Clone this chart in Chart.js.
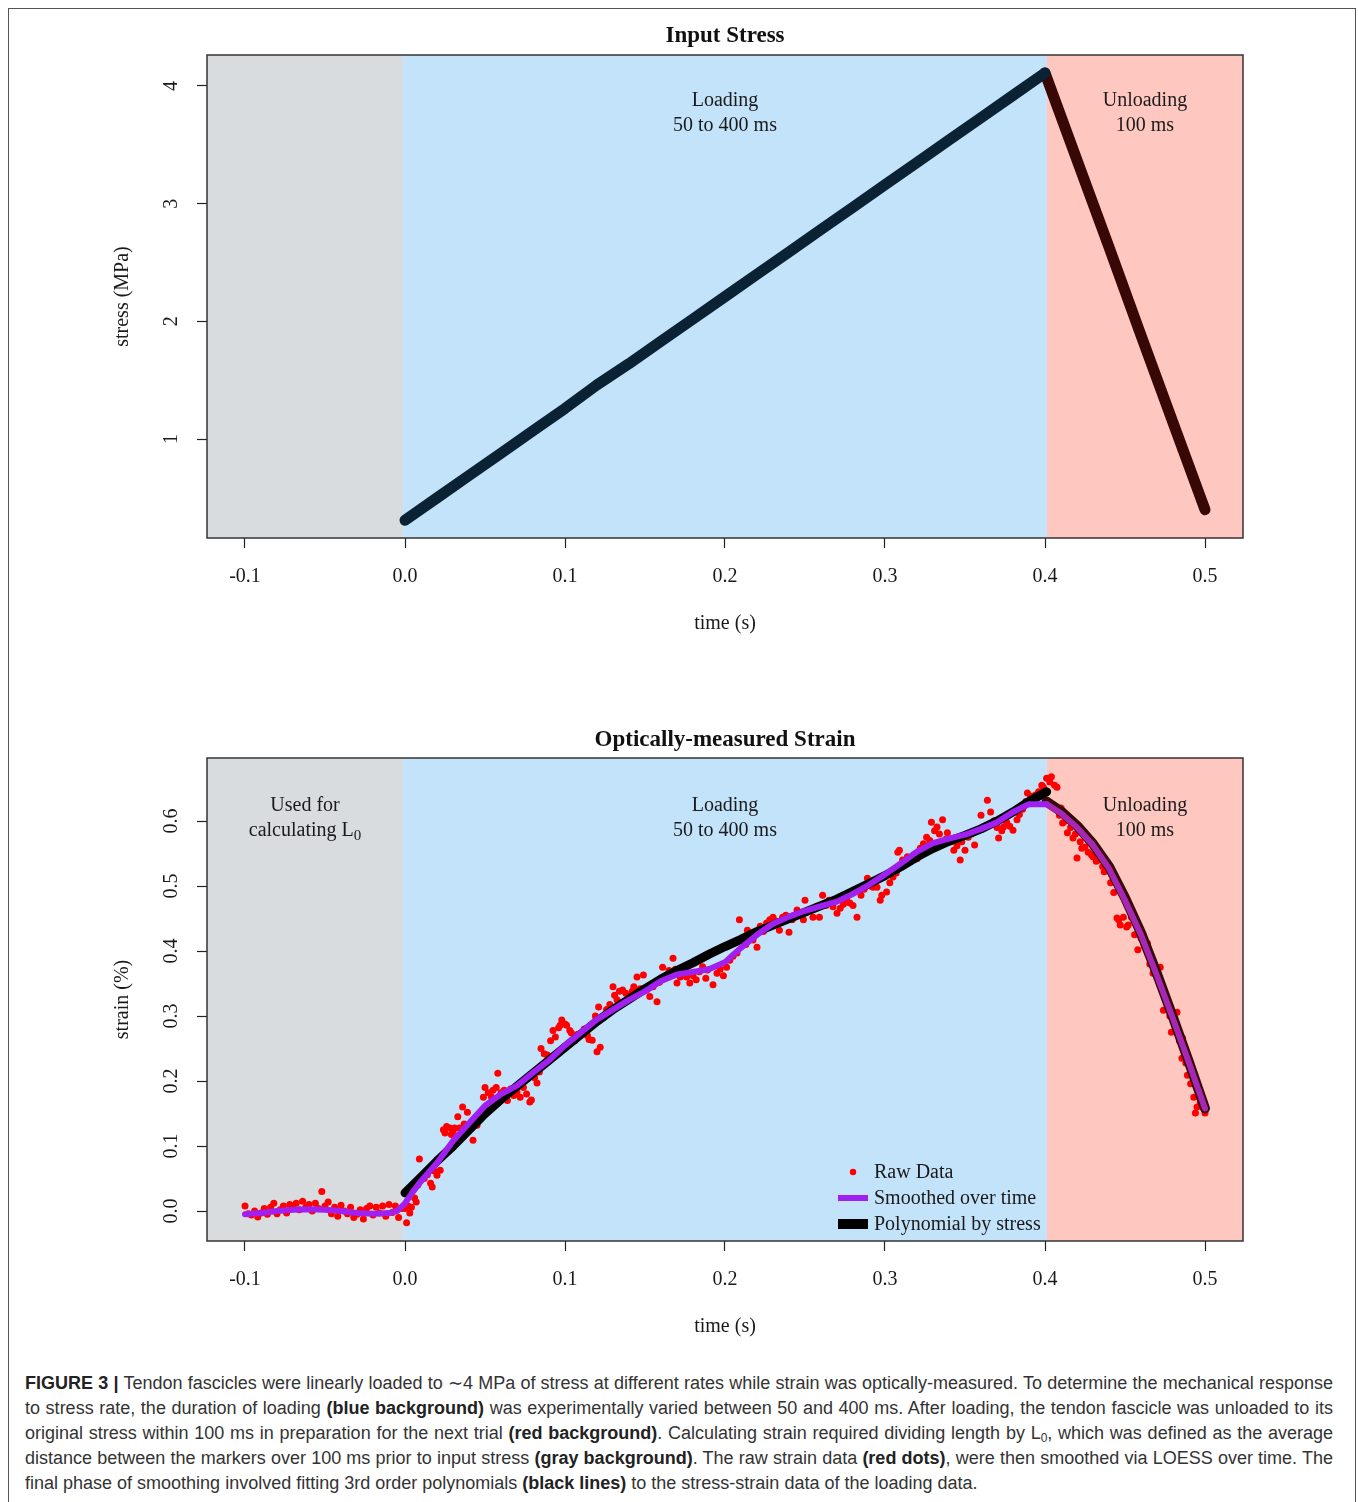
<!DOCTYPE html>
<html>
<head>
<meta charset="utf-8">
<script src="https://cdn.jsdelivr.net/npm/chart.js@4.4.0/dist/chart.umd.min.js"></script>
<style>
  body { margin: 0; background: #fff; width: 1358px; height: 1502px; position: relative; overflow: hidden; }
  #frame { position: absolute; left: 8px; top: 8px; width: 1346px; height: 1530px; border: 1.5px solid #555; }
  canvas { position: absolute; left: 0; }
  #stressCanvas { top: 0; }
  #strainCanvas { top: 703px; }
  #caption { position: absolute; left: 25px; top: 1371px; width: 1308px; font-family: "Liberation Sans", Arial, sans-serif; font-size: 18px; line-height: 25px; color: #333; }
  #caption div { white-space: nowrap; text-align: justify; text-align-last: justify; }
  #caption div.last { text-align-last: left; }
  #caption b { color: #222; }
  #caption sub { font-size: 12px; line-height: 0; vertical-align: -3px; }
</style>
</head>
<body>
<div id="frame"></div>
<canvas id="stressCanvas" width="1358" height="660"></canvas>
<canvas id="strainCanvas" width="1358" height="660"></canvas>
<div id="caption">
<div><b>FIGURE 3 |</b> Tendon fascicles were linearly loaded to ∼4 MPa of stress at different rates while strain was optically-measured. To determine the mechanical response</div>
<div>to stress rate, the duration of loading <b>(blue background)</b> was experimentally varied between 50 and 400 ms. After loading, the tendon fascicle was unloaded to its</div>
<div>original stress within 100 ms in preparation for the next trial <b>(red background)</b>. Calculating strain required dividing length by L<sub>0</sub>, which was defined as the average</div>
<div>distance between the markers over 100 ms prior to input stress <b>(gray background)</b>. The raw strain data <b>(red dots)</b>, were then smoothed via LOESS over time. The</div>
<div class="last">final phase of smoothing involved fitting 3rd order polynomials <b>(black lines)</b> to the stress-strain data of the loading data.</div>
</div>
<script>
// axes
const xTicks = [-0.1, 0.0, 0.1, 0.2, 0.3, 0.4, 0.5];
const stressTicks = [1, 2, 3, 4];
const strainTicks = [0.0, 0.1, 0.2, 0.3, 0.4, 0.5, 0.6];
const phaseEdges = [-0.0012, 0.4012];
const phaseColors = ['#d8dcdf', '#c3e3fa', '#fec8c1'];

// input stress
const loadTime = [0.000, 0.020, 0.040, 0.060, 0.080, 0.100, 0.120, 0.140, 0.160, 0.180, 0.200,
                  0.220, 0.240, 0.260, 0.280, 0.300, 0.320, 0.340, 0.360, 0.380, 0.400];
const loadStress = [0.31, 0.50, 0.69, 0.88, 1.07, 1.26, 1.46, 1.64, 1.83, 2.02, 2.21,
                    2.40, 2.59, 2.78, 2.97, 3.16, 3.35, 3.54, 3.73, 3.92, 4.11];
const unloadTime = [0.400, 0.420, 0.440, 0.460, 0.480, 0.500];
const unloadStress = [4.11, 3.37, 2.63, 1.88, 1.14, 0.40];

// raw strain (red dots)
const rawTime = [
  -0.100, -0.098, -0.096, -0.094, -0.092, -0.090, -0.088, -0.086, -0.084, -0.082,
  -0.080, -0.078, -0.076, -0.074, -0.072, -0.070, -0.068, -0.066, -0.064, -0.062,
  -0.060, -0.058, -0.056, -0.054, -0.052, -0.050, -0.048, -0.046, -0.044, -0.042,
  -0.040, -0.038, -0.036, -0.034, -0.032, -0.030, -0.028, -0.026, -0.024, -0.022,
  -0.020, -0.018, -0.016, -0.014, -0.012, -0.010, -0.008, -0.006, -0.004, -0.002,
  0.000, 0.001, 0.002, 0.003, 0.004, 0.005, 0.006, 0.007, 0.008, 0.009,
  0.010, 0.012, 0.014, 0.016, 0.017, 0.018, 0.020, 0.022, 0.024, 0.025,
  0.026, 0.028, 0.029, 0.030, 0.031, 0.033, 0.034, 0.036, 0.037, 0.039,
  0.041, 0.0425, 0.045, 0.047, 0.049, 0.050, 0.052, 0.054, 0.055, 0.057,
  0.058, 0.060, 0.062, 0.064, 0.066, 0.068, 0.070, 0.072, 0.074, 0.076,
  0.078, 0.079, 0.081, 0.0825, 0.084, 0.085, 0.087, 0.089, 0.091, 0.0925,
  0.094, 0.096, 0.097, 0.098, 0.100, 0.101, 0.103, 0.104, 0.106, 0.108,
  0.110, 0.112, 0.114, 0.115, 0.117, 0.119, 0.120, 0.121, 0.122, 0.124,
  0.126, 0.128, 0.130, 0.131, 0.1325, 0.134, 0.136, 0.138, 0.140, 0.142,
  0.143, 0.145, 0.147, 0.149, 0.151, 0.153, 0.155, 0.1575, 0.159, 0.161,
  0.163, 0.165, 0.1675, 0.169, 0.170, 0.172, 0.174, 0.176, 0.178, 0.180,
  0.182, 0.184, 0.186, 0.188, 0.189, 0.1925, 0.195, 0.197, 0.199, 0.201,
  0.203, 0.205, 0.2075, 0.209, 0.211, 0.213, 0.214, 0.2175, 0.220, 0.222,
  0.224, 0.226, 0.228, 0.230, 0.232, 0.234, 0.236, 0.238, 0.240, 0.242,
  0.245, 0.247, 0.249, 0.250, 0.252, 0.255, 0.257, 0.259, 0.261, 0.263,
  0.265, 0.2675, 0.270, 0.272, 0.274, 0.276, 0.278, 0.280, 0.2825, 0.285,
  0.287, 0.289, 0.291, 0.2925, 0.295, 0.297, 0.298, 0.301, 0.303, 0.305,
  0.307, 0.308, 0.309, 0.311, 0.314, 0.316, 0.318, 0.320, 0.322, 0.324,
  0.326, 0.328, 0.329, 0.331, 0.3325, 0.334, 0.336, 0.338, 0.339, 0.341,
  0.343, 0.345, 0.347, 0.348, 0.350, 0.352, 0.354, 0.356, 0.358, 0.360,
  0.362, 0.364, 0.366, 0.368, 0.370, 0.371, 0.373, 0.374, 0.376, 0.378,
  0.380, 0.3825, 0.384, 0.386, 0.388, 0.389, 0.391, 0.3925, 0.394, 0.396,
  0.398, 0.399, 0.401, 0.403, 0.404, 0.406, 0.4075, 0.409, 0.410, 0.411,
  0.413, 0.414, 0.416, 0.4175, 0.419, 0.420, 0.422, 0.423, 0.425, 0.427,
  0.429, 0.430, 0.432, 0.434, 0.436, 0.437, 0.439, 0.441, 0.443, 0.445,
  0.446, 0.447, 0.449, 0.451, 0.452, 0.454, 0.456, 0.458, 0.460, 0.462,
  0.464, 0.4655, 0.4675, 0.469, 0.472, 0.474, 0.476, 0.478, 0.479, 0.4825,
  0.484, 0.486, 0.4856, 0.488, 0.489, 0.491, 0.493, 0.494, 0.495, 0.497,
  0.500
];
const rawStrain = [
  0.008, -0.004, -0.006, 0.000, -0.009, -0.003, 0.004, -0.005, 0.006, 0.012,
  -0.004, 0.002, 0.008, -0.003, 0.010, 0.005, 0.012, 0.002, 0.015, 0.006,
  0.010, 0.000, 0.012, 0.004, 0.030, 0.008, 0.014, -0.004, 0.006, -0.008,
  0.009, 0.000, -0.004, 0.006, -0.010, -0.005, 0.002, -0.012, 0.004, 0.008,
  -0.006, 0.006, -0.003, 0.008, -0.008, 0.010, -0.002, 0.008, -0.010, 0.004,
  0.004, -0.018, 0.008, -0.003, 0.006, 0.032, 0.020, 0.014, 0.040, 0.080,
  0.048, 0.050, 0.056, 0.043, 0.037, 0.062, 0.055, 0.063, 0.125, 0.120,
  0.130, 0.128, 0.118, 0.122, 0.128, 0.145, 0.128, 0.160, 0.134, 0.152,
  0.128, 0.109, 0.132, 0.150, 0.175, 0.190, 0.182, 0.176, 0.186, 0.190,
  0.212, 0.182, 0.186, 0.170, 0.188, 0.178, 0.183, 0.175, 0.190, 0.180,
  0.168, 0.171, 0.205, 0.197, 0.214, 0.250, 0.242, 0.240, 0.262, 0.278,
  0.268, 0.282, 0.286, 0.294, 0.288, 0.286, 0.278, 0.274, 0.262, 0.272,
  0.274, 0.280, 0.270, 0.264, 0.263, 0.300, 0.245, 0.314, 0.252, 0.298,
  0.310, 0.318, 0.345, 0.332, 0.325, 0.338, 0.340, 0.335, 0.330, 0.338,
  0.345, 0.360, 0.342, 0.363, 0.340, 0.330, 0.345, 0.322, 0.352, 0.375,
  0.362, 0.370, 0.389, 0.372, 0.351, 0.360, 0.364, 0.360, 0.351, 0.362,
  0.356, 0.368, 0.376, 0.358, 0.371, 0.348, 0.366, 0.372, 0.362, 0.375,
  0.386, 0.392, 0.397, 0.448, 0.420, 0.410, 0.432, 0.417, 0.406, 0.438,
  0.430, 0.443, 0.448, 0.452, 0.446, 0.432, 0.452, 0.455, 0.429, 0.448,
  0.463, 0.458, 0.448, 0.478, 0.462, 0.452, 0.468, 0.452, 0.486, 0.470,
  0.478, 0.468, 0.458, 0.466, 0.472, 0.480, 0.474, 0.470, 0.452, 0.486,
  0.495, 0.512, 0.500, 0.498, 0.498, 0.478, 0.486, 0.491, 0.505, 0.514,
  0.520, 0.552, 0.555, 0.540, 0.545, 0.538, 0.548, 0.542, 0.558, 0.565,
  0.575, 0.570, 0.598, 0.585, 0.591, 0.580, 0.602, 0.572, 0.582, 0.568,
  0.555, 0.562, 0.540, 0.568, 0.555, 0.575, 0.580, 0.563, 0.585, 0.609,
  0.590, 0.632, 0.614, 0.600, 0.590, 0.574, 0.585, 0.591, 0.598, 0.592,
  0.586, 0.602, 0.610, 0.618, 0.630, 0.643, 0.638, 0.632, 0.640, 0.645,
  0.655, 0.652, 0.666, 0.660, 0.668, 0.655, 0.652, 0.609, 0.620, 0.597,
  0.600, 0.582, 0.590, 0.574, 0.580, 0.543, 0.568, 0.558, 0.560, 0.552,
  0.548, 0.545, 0.538, 0.540, 0.530, 0.522, 0.528, 0.505, 0.490, 0.451,
  0.448, 0.440, 0.452, 0.437, 0.440, 0.452, 0.425, 0.402, 0.420, 0.408,
  0.412, 0.380, 0.366, 0.372, 0.375, 0.309, 0.328, 0.300, 0.275, 0.306,
  0.262, 0.266, 0.235, 0.228, 0.209, 0.196, 0.175, 0.151, 0.160, 0.168,
  0.151
];

// LOESS over time (purple)
const smoothTime = [-0.100, -0.090, -0.080, -0.070, -0.060, -0.050, -0.040, -0.030, -0.020, -0.010,
                    -0.005, 0.000, 0.005, 0.010, 0.015, 0.020, 0.030, 0.040, 0.050, 0.060,
                    0.070, 0.080, 0.090, 0.100, 0.110, 0.120, 0.130, 0.140, 0.150, 0.160,
                    0.170, 0.180, 0.190, 0.200, 0.210, 0.220, 0.230, 0.240, 0.250, 0.260,
                    0.270, 0.280, 0.290, 0.300, 0.310, 0.320, 0.330, 0.340, 0.350, 0.360,
                    0.370, 0.380, 0.390, 0.401];
const smoothStrain = [-0.005, -0.003, 0.000, 0.002, 0.003, 0.002, 0.000, -0.003, -0.004, -0.003,
                      0.000, 0.012, 0.030, 0.046, 0.060, 0.074, 0.108, 0.135, 0.162, 0.180,
                      0.193, 0.213, 0.232, 0.255, 0.275, 0.295, 0.310, 0.325, 0.338, 0.354,
                      0.364, 0.368, 0.372, 0.383, 0.405, 0.425, 0.442, 0.453, 0.462, 0.469,
                      0.476, 0.488, 0.502, 0.518, 0.535, 0.553, 0.566, 0.573, 0.579, 0.588,
                      0.598, 0.614, 0.626, 0.626];
const smoothUnloadTime = [0.401, 0.410, 0.420, 0.430, 0.440, 0.450, 0.460, 0.470, 0.480, 0.490, 0.500];
const smoothUnloadStrain = [0.626, 0.612, 0.590, 0.563, 0.527, 0.478, 0.425, 0.362, 0.296, 0.228, 0.158];

// 3rd order polynomial by stress (black / dark red)
const polyTime = [0.000, 0.010, 0.020, 0.030, 0.040, 0.050, 0.060, 0.070, 0.080, 0.090,
                  0.100, 0.110, 0.120, 0.130, 0.140, 0.150, 0.160, 0.170, 0.180, 0.190,
                  0.200, 0.210, 0.220, 0.230, 0.240, 0.250, 0.260, 0.270, 0.280, 0.290,
                  0.300, 0.310, 0.320, 0.330, 0.340, 0.350, 0.360, 0.370, 0.380, 0.390, 0.401];
const polyStrain = [0.028, 0.052, 0.077, 0.100, 0.125, 0.150, 0.172, 0.192, 0.212, 0.232,
                    0.252, 0.272, 0.292, 0.310, 0.326, 0.342, 0.357, 0.370, 0.382, 0.395,
                    0.407, 0.418, 0.430, 0.440, 0.450, 0.460, 0.470, 0.480, 0.492, 0.504,
                    0.516, 0.530, 0.545, 0.558, 0.569, 0.578, 0.588, 0.600, 0.614, 0.630, 0.645];
const polyUnloadTime = [0.401, 0.410, 0.420, 0.430, 0.440, 0.450, 0.460, 0.470, 0.480, 0.490, 0.500];
const polyUnloadStrain = [0.630, 0.615, 0.593, 0.565, 0.530, 0.482, 0.428, 0.365, 0.298, 0.229, 0.158];

const legendLabels = ['Raw Data', 'Smoothed over time', 'Polynomial by stress'];

Chart.defaults.font.family = '"Liberation Serif", "Times New Roman", serif';
Chart.defaults.color = '#1a1a1a';

function pairs(xs, ys) {
    return xs.map((x, i) => ({x: x, y: ys[i]}));
}

function drawRich(ctx, segs, cx, cy, size) {
    let total = 0;
    for (let s of segs) {
        ctx.font = (s.sub ? size * 0.75 : size) + 'px "Liberation Serif", serif';
        s.w = ctx.measureText(s.t).width;
        total += s.w;
    }
    let x = cx - total / 2;
    for (let s of segs) {
        ctx.font = (s.sub ? size * 0.75 : size) + 'px "Liberation Serif", serif';
        ctx.fillText(s.t, x, cy + (s.sub ? size * 0.25 : 0));
        x += s.w;
    }
}

const figurePlugin = {
    id: 'figure',
    beforeDatasetsDraw(chart, args, opts) {
        const {ctx, chartArea: a, scales: {x}} = chart;
        const e0 = x.getPixelForValue(phaseEdges[0]);
        const e1 = x.getPixelForValue(phaseEdges[1]);
        ctx.save();
        ctx.fillStyle = phaseColors[0];
        ctx.fillRect(a.left, a.top, e0 - a.left, a.height);
        ctx.fillStyle = phaseColors[1];
        ctx.fillRect(e0, a.top, e1 - e0, a.height);
        ctx.fillStyle = phaseColors[2];
        ctx.fillRect(e1, a.top, a.right - e1, a.height);

        // phase notes
        ctx.fillStyle = '#1a1a1a';
        ctx.textBaseline = 'middle';
        const centers = [(a.left + e0) / 2, (e0 + e1) / 2, (e1 + a.right) / 2];
        opts.notes.forEach((lines, i) => {
            lines.forEach((line, j) => drawRich(ctx, line, centers[i], a.top + opts.noteY + j * 25, 20));
        });
        ctx.restore();
    },
    afterDraw(chart, args, opts) {
        const {ctx, chartArea: a} = chart;
        ctx.save();
        ctx.strokeStyle = '#333';
        ctx.lineWidth = 1.5;
        ctx.strokeRect(a.left, a.top, a.width, a.height);

        ctx.fillStyle = '#111';
        ctx.textAlign = 'center';
        ctx.textBaseline = 'middle';
        ctx.font = 'bold 23px "Liberation Serif", serif';
        ctx.fillText(opts.title, (a.left + a.right) / 2, opts.titleY);

        if (opts.legend) {
            const lx = a.left + 631;
            const ty = [a.bottom - 69, a.bottom - 43, a.bottom - 17];
            ctx.fillStyle = '#ff0000';
            ctx.beginPath();
            ctx.arc(lx + 15, ty[0], 3.2, 0, Math.PI * 2);
            ctx.fill();
            ctx.fillStyle = '#a020f0';
            ctx.fillRect(lx, ty[1] - 3, 30, 6);
            ctx.fillStyle = '#000';
            ctx.fillRect(lx, ty[2] - 5, 30, 10);
            ctx.fillStyle = '#1a1a1a';
            ctx.textAlign = 'left';
            ctx.font = '20px "Liberation Serif", serif';
            legendLabels.forEach((t, i) => ctx.fillText(t, lx + 36, ty[i] + 1));
        }
        ctx.restore();
    }
};

function buildOptions(yMin, yMax, yTicks, yTitle, yLabelPad, fmt, plug) {
    return {
        responsive: false,
        animation: false,
        events: [],
        layout: {padding: {left: 110, right: 115, top: 55, bottom: 0}},
        plugins: {
            legend: {display: false},
            tooltip: {enabled: false},
            figure: plug
        },
        scales: {
            x: {
                type: 'linear',
                min: -0.12375,
                max: 0.52375,
                afterBuildTicks: s => { s.ticks = xTicks.map(v => ({value: v})); },
                afterFit: s => { s.height = 122; },
                ticks: {autoSkip: false, padding: 17, font: {size: 20}, callback: v => v.toFixed(1)},
                grid: {drawOnChartArea: false, drawTicks: true, tickLength: 10, tickColor: '#222', tickWidth: 1.2},
                border: {display: false},
                title: {display: true, text: 'time (s)', font: {size: 20}, padding: {top: 0, bottom: 24}}
            },
            y: {
                type: 'linear',
                min: yMin,
                max: yMax,
                afterBuildTicks: s => { s.ticks = yTicks.map(v => ({value: v})); },
                afterFit: s => { s.width = 97; },
                ticks: {autoSkip: false, minRotation: 90, maxRotation: 90, crossAlign: 'center',
                        padding: yLabelPad, font: {size: 20}, callback: fmt},
                grid: {drawOnChartArea: false, drawTicks: true, tickLength: 10, tickColor: '#222', tickWidth: 1.2},
                border: {display: false},
                title: {display: true, text: yTitle, font: {size: 20}, padding: {top: 1, bottom: 0}}
            }
        }
    };
}

const lineStyle = {pointRadius: 0, borderCapStyle: 'round', borderJoinStyle: 'round', tension: 0, fill: false};

new Chart(document.getElementById('stressCanvas'), {
    type: 'line',
    data: {
        datasets: [
            {...lineStyle, data: pairs(loadTime, loadStress), borderColor: '#0b2235', borderWidth: 11, order: 1},
            {...lineStyle, data: pairs(unloadTime, unloadStress), borderColor: '#380806', borderWidth: 11, order: 2}
        ]
    },
    options: buildOptions(0.159, 4.263, stressTicks, 'stress (MPa)', 20, v => String(v), {
        title: 'Input Stress',
        titleY: 36,
        noteY: 46,
        notes: [[], [[{t: 'Loading'}], [{t: '50 to 400 ms'}]], [[{t: 'Unloading'}], [{t: '100 ms'}]]],
        legend: false
    }),
    plugins: [figurePlugin]
});

new Chart(document.getElementById('strainCanvas'), {
    type: 'line',
    data: {
        datasets: [
            {...lineStyle, data: pairs(smoothTime, smoothStrain), borderColor: '#a020f0', borderWidth: 6, order: 0},
            {...lineStyle, data: pairs(smoothUnloadTime, smoothUnloadStrain), borderColor: '#a528b4', borderWidth: 6, order: 1},
            {...lineStyle, data: pairs(polyUnloadTime, polyUnloadStrain), borderColor: '#3a0a08', borderWidth: 10, order: 2},
            {...lineStyle, data: pairs(polyTime, polyStrain), borderColor: '#000000', borderWidth: 9, order: 3},
            {data: pairs(rawTime, rawStrain), showLine: false, pointRadius: 3.5, pointBorderWidth: 0,
             pointBackgroundColor: '#ff0000', borderColor: '#ff0000', order: 4}
        ]
    },
    options: buildOptions(-0.046, 0.697, strainTicks, 'strain (%)', 12.5, v => v.toFixed(1), {
        title: 'Optically-measured Strain',
        titleY: 37,
        noteY: 48,
        notes: [[[{t: 'Used for'}], [{t: 'calculating L'}, {t: '0', sub: true}]],
                [[{t: 'Loading'}], [{t: '50 to 400 ms'}]],
                [[{t: 'Unloading'}], [{t: '100 ms'}]]],
        legend: true
    }),
    plugins: [figurePlugin]
});
</script>
</body>
</html>
